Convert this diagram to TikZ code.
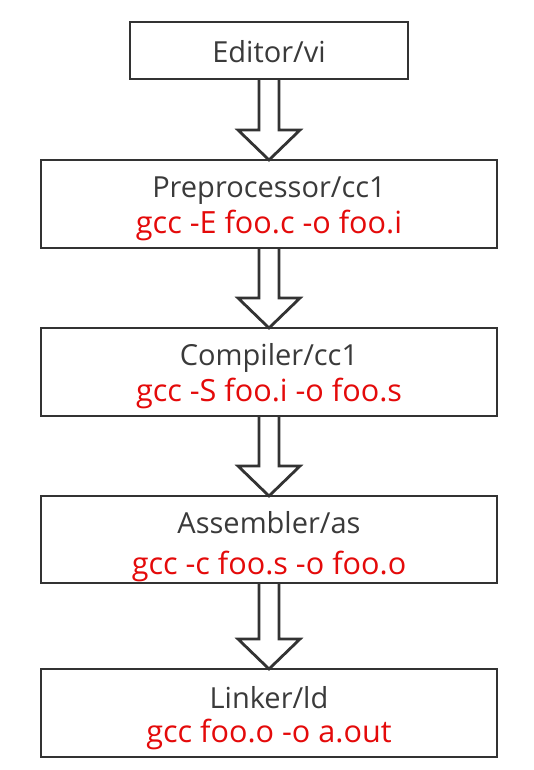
\documentclass[tikz,border=0pt]{standalone}
\usepackage{fontspec}
\setmainfont{Open Sans}
\usetikzlibrary{calc}
\definecolor{ln}{RGB}{51,51,51}
\definecolor{tx}{RGB}{58,58,58}
\definecolor{rd}{RGB}{228,10,10}
\begin{document}
\begin{tikzpicture}[x=1pt,y=1pt,
  box/.style={draw=ln, line width=2.8pt, fill=white, inner sep=0pt, outer sep=0pt, minimum width=456, minimum height=88},
  lbl/.style={anchor=base, text=tx, font=\fontsize{29}{32}\selectfont, inner sep=0pt},
  cmd/.style={anchor=base, text=rd, font=\fontsize{30.6}{34}\selectfont, inner sep=0pt},
  barrow/.style={draw=ln, line width=2.8pt, line join=miter}]
\useasboundingbox[fill=white] (0,0) rectangle (533,-770);
% boxes
\node[box, minimum width=278, minimum height=57] (ed) at (269,-50.5) {};
\node[box] (pp) at (269,-204) {};
\node[box] (cc) at (269,-372) {};
\node[box, minimum height=87] (as) at (269,-539.5) {};
\node[box] (ld) at (269,-713) {};
% labels
\node[lbl] (edt) at (269,-63) {Editor/vi};
\node[lbl] (ppt) at (269,-197) {Preprocessor/cc1};
\node[cmd] (ppc) at (269,-233) {gcc -E foo.c -o foo.i};
\node[lbl] (cct) at (269,-365) {Compiler/cc1};
\node[cmd] (ccc) at (269,-401) {gcc -S foo.i -o foo.s};
\node[lbl] (ast) at (269,-533) {Assembler/as};
\node[cmd] (asc) at (269,-574) {gcc -c foo.s -o foo.o};
\node[lbl] (ldt) at (269,-708) {Linker/ld};
\node[cmd] (ldc) at (269,-742) {gcc foo.o -o a.out};
% block arrows
\newcommand\blockarrow[2]{%
  \draw[barrow] ($(#1.south)+(-10,0)$) -- ($(#2.north)+(-10,30)$) -- ($(#2.north)+(-31,30)$)
    -- (#2.north) -- ($(#2.north)+(31,30)$) -- ($(#2.north)+(10,30)$) -- ($(#1.south)+(10,0)$);}
\blockarrow{ed}{pp}
\blockarrow{pp}{cc}
\blockarrow{cc}{as}
\blockarrow{as}{ld}
\end{tikzpicture}
\end{document}
